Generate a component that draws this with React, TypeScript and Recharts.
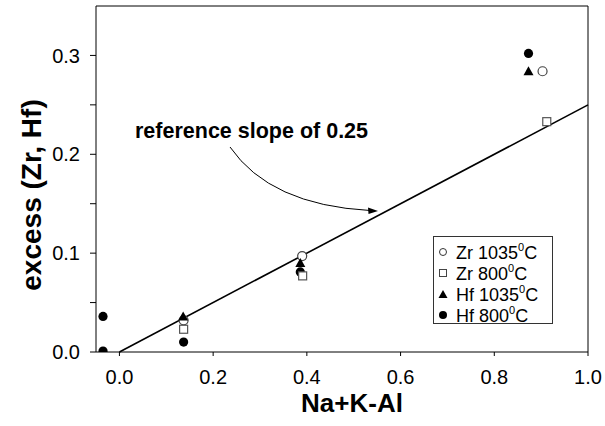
import React from "react";
import {
  ScatterChart,
  Scatter,
  XAxis,
  YAxis,
  ReferenceLine,
} from "recharts";

const xTicks = [0, 0.2, 0.4, 0.6, 0.8, 1.0];
const yTicks = [0, 0.05, 0.1, 0.15, 0.2, 0.25, 0.3];
const yLabelled = [0, 0.1, 0.2, 0.3];

const zr1035X = [0.137, 0.39, 0.903];
const zr1035Y = [0.032, 0.097, 0.284];
const zr800X = [0.137, 0.391, 0.912];
const zr800Y = [0.023, 0.077, 0.233];
const hf1035X = [0.136, 0.386, 0.873];
const hf1035Y = [0.036, 0.09, 0.284];
const hf800X = [-0.035, -0.035, 0.137, 0.386, 0.873];
const hf800Y = [0.036, 0.001, 0.01, 0.081, 0.302];

const slopeLine = [
  { x: 0, y: 0 },
  { x: 1.0, y: 0.25 },
];

const legendItems = [
  { name: "Zr 1035", kind: "ocircle" },
  { name: "Zr 800", kind: "square" },
  { name: "Hf 1035", kind: "triangle" },
  { name: "Hf 800", kind: "fcircle" },
];

const zip = (xs: number[], ys: number[]) => xs.map((x, i) => ({ x, y: ys[i] }));

const OpenCircle = (p: any) => (
  <circle cx={p.cx} cy={p.cy} r={4.5} fill="#fff" stroke="#444" strokeWidth={1.2} />
);
const OpenSquare = (p: any) => (
  <rect x={p.cx - 4} y={p.cy - 4} width={8} height={8} fill="#fff" stroke="#555" strokeWidth={1.2} />
);
const FilledTriangle = (p: any) => (
  <polygon
    points={`${p.cx},${p.cy - 5} ${p.cx - 5},${p.cy + 4} ${p.cx + 5},${p.cy + 4}`}
    fill="#000"
  />
);
const FilledCircle = (p: any) => <circle cx={p.cx} cy={p.cy} r={4.6} fill="#000" />;

const LegendSymbol = ({ kind, x, y }: { kind: string; x: number; y: number }) => (
  <g>
    {kind === "ocircle" && <circle cx={x} cy={y} r={3.5} fill="#fff" stroke="#333" strokeWidth={1} />}
    {kind === "square" && <rect x={x - 3.5} y={y - 3.5} width={7} height={7} fill="#fff" stroke="#444" strokeWidth={1} />}
    {kind === "triangle" && <polygon points={`${x},${y - 4} ${x - 4.5},${y + 4} ${x + 4.5},${y + 4}`} fill="#000" />}
    {kind === "fcircle" && <circle cx={x} cy={y} r={4} fill="#000" />}
  </g>
);

const fmtY = (v: number) => (yLabelled.some((t) => Math.abs(t - v) < 1e-9) ? v.toFixed(1) : "");

export default function App() {
  const font = "Arial, 'Liberation Sans', Helvetica, sans-serif";
  const legendRows = [252, 273, 294, 315];
  return (
    <div style={{ position: "absolute", left: 0, top: 0, width: 605, height: 426, background: "#fff", fontFamily: font }}>
      <ScatterChart width={605} height={426} margin={{ top: 6, right: 17, bottom: 0, left: 0 }}>
        <XAxis
          type="number"
          dataKey="x"
          domain={[-0.05, 1.0]}
          ticks={xTicks}
          tickFormatter={(v: number) => v.toFixed(1)}
          height={74}
          tickSize={4}
          tickMargin={14}
          stroke="#000"
          tick={{ fill: "#000", fontSize: 20, fontFamily: font }}
          allowDataOverflow
        />
        <YAxis
          type="number"
          dataKey="y"
          domain={[0, 0.35]}
          ticks={yTicks}
          tickFormatter={fmtY}
          width={96}
          tickSize={6}
          tickMargin={10}
          stroke="#000"
          tick={{ fill: "#000", fontSize: 20, fontFamily: font }}
          allowDataOverflow
        />
        <ReferenceLine y={0.35} stroke="#000" strokeWidth={1} />
        <ReferenceLine x={1.0} stroke="#000" strokeWidth={1} />
        <ReferenceLine segment={slopeLine} stroke="#000" strokeWidth={1.6} />
        <Scatter name="Hf 800°C" data={zip(hf800X, hf800Y)} shape={FilledCircle} isAnimationActive={false} />
        <Scatter name="Zr 1035°C" data={zip(zr1035X, zr1035Y)} shape={OpenCircle} isAnimationActive={false} />
        <Scatter name="Zr 800°C" data={zip(zr800X, zr800Y)} shape={OpenSquare} isAnimationActive={false} />
        <Scatter name="Hf 1035°C" data={zip(hf1035X, hf1035Y)} shape={FilledTriangle} isAnimationActive={false} />
      </ScatterChart>

      <svg width={605} height={426} style={{ position: "absolute", left: 0, top: 0, pointerEvents: "none" }}>
        <text x={135} y={138} fontSize={21.5} fontWeight="bold" fontFamily={font} fill="#000">
          reference slope of 0.25
        </text>
        <path d="M230,147 Q270,205 370,210.5" fill="none" stroke="#000" strokeWidth={1} />
        <polygon points="378,211 368,207.5 368.5,214" fill="#000" />
        <text x={352} y={412} fontSize={26} fontWeight="bold" fontFamily={font} fill="#000" textAnchor="middle">
          Na+K-Al
        </text>
        <text
          x={0}
          y={0}
          transform="translate(41,195) rotate(-90)"
          fontSize={28}
          fontWeight="bold"
          fontFamily={font}
          fill="#000"
          textAnchor="middle"
        >
          excess (Zr, Hf)
        </text>

        <rect x={433.5} y={236.5} width={119} height={87} fill="#fff" stroke="#333" strokeWidth={1} />
        {legendItems.map((it, i) => (
          <g key={it.name}>
            <LegendSymbol kind={it.kind} x={443} y={legendRows[i]} />
            <text x={456} y={legendRows[i] + 6.5} fontSize={18} fontFamily={font} fill="#000">
              {it.name}
              <tspan dy={-8} fontSize={11}>0</tspan>
              <tspan dy={8}>C</tspan>
            </text>
          </g>
        ))}
      </svg>
    </div>
  );
}
